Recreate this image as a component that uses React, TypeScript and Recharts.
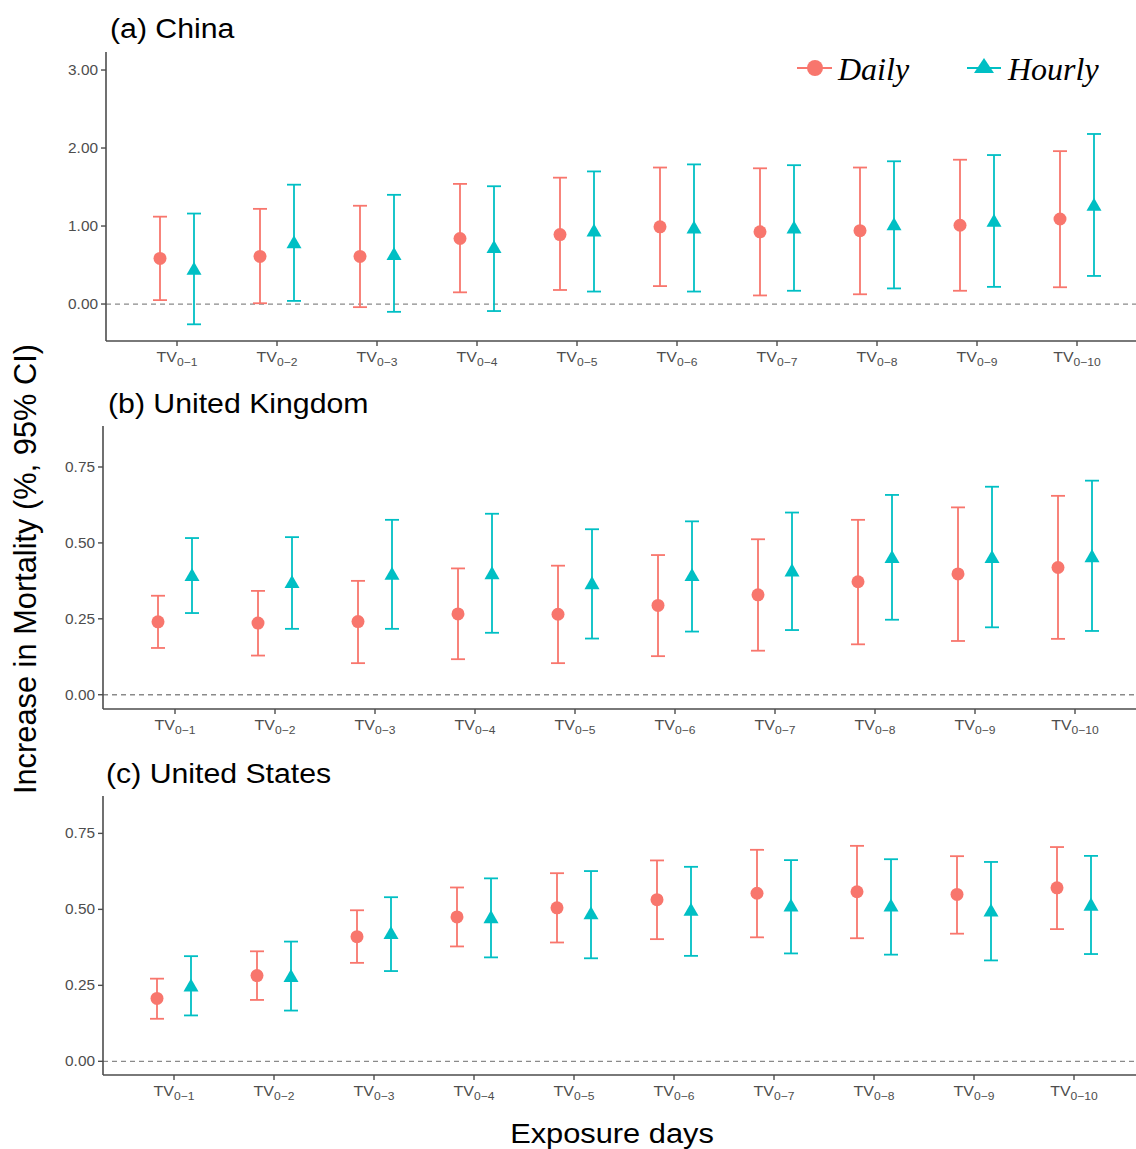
import React from 'react';
import { ScatterChart, Scatter, XAxis, YAxis, ErrorBar, ReferenceLine } from 'recharts';

const RED = '#F8766D';
const TEAL = '#00BFC4';
const AXIS = '#4d4d4d';
const SANS = '"Liberation Sans", Arial, Helvetica, sans-serif';
const SERIF = '"Liberation Serif", "Times New Roman", serif';

// exposure windows TV0-1 .. TV0-10
const lags = ['0−1', '0−2', '0−3', '0−4', '0−5', '0−6', '0−7', '0−8', '0−9', '0−10'];

// (a) China
const chinaDaily = [0.585, 0.61, 0.61, 0.84, 0.89, 0.99, 0.925, 0.94, 1.01, 1.09];
const chinaDailyLo = [0.05, 0.01, -0.04, 0.15, 0.18, 0.23, 0.11, 0.125, 0.17, 0.215];
const chinaDailyHi = [1.12, 1.22, 1.26, 1.54, 1.62, 1.75, 1.74, 1.75, 1.85, 1.96];
const chinaHourly = [0.43, 0.77, 0.62, 0.71, 0.92, 0.96, 0.96, 1.0, 1.045, 1.25];
const chinaHourlyLo = [-0.26, 0.04, -0.1, -0.09, 0.16, 0.16, 0.17, 0.2, 0.22, 0.36];
const chinaHourlyHi = [1.16, 1.53, 1.4, 1.51, 1.7, 1.79, 1.78, 1.83, 1.91, 2.18];

// (b) United Kingdom
const ukDaily = [0.24, 0.236, 0.241, 0.266, 0.265, 0.294, 0.329, 0.372, 0.398, 0.419];
const ukDailyLo = [0.154, 0.129, 0.104, 0.117, 0.104, 0.127, 0.145, 0.166, 0.177, 0.184];
const ukDailyHi = [0.326, 0.342, 0.375, 0.416, 0.425, 0.46, 0.512, 0.576, 0.617, 0.655];
const ukHourly = [0.389, 0.366, 0.393, 0.395, 0.362, 0.389, 0.404, 0.448, 0.448, 0.451];
const ukHourlyLo = [0.269, 0.217, 0.217, 0.204, 0.185, 0.208, 0.213, 0.247, 0.222, 0.21];
const ukHourlyHi = [0.516, 0.519, 0.576, 0.596, 0.545, 0.571, 0.6, 0.658, 0.685, 0.705];

// (c) United States
const usDaily = [0.207, 0.282, 0.41, 0.475, 0.505, 0.532, 0.553, 0.558, 0.549, 0.571];
const usDailyLo = [0.14, 0.202, 0.324, 0.378, 0.391, 0.402, 0.408, 0.405, 0.42, 0.435];
const usDailyHi = [0.272, 0.362, 0.497, 0.572, 0.619, 0.661, 0.696, 0.709, 0.675, 0.705];
const usHourly = [0.244, 0.275, 0.417, 0.469, 0.482, 0.493, 0.507, 0.507, 0.491, 0.51];
const usHourlyLo = [0.151, 0.167, 0.297, 0.342, 0.339, 0.347, 0.355, 0.351, 0.332, 0.353];
const usHourlyHi = [0.346, 0.394, 0.54, 0.602, 0.626, 0.64, 0.662, 0.665, 0.656, 0.676];

const chinaTicks = [0, 1, 2, 3];
const smallTicks = [0, 0.25, 0.5, 0.75];

const DODGE = 0.17;

function buildSeries(est: number[], lo: number[], hi: number[], shift: number) {
  return est.map((v, i) => ({ x: i + 1 + shift, y: v, err: [v - lo[i], hi[i] - v] }));
}

const DotShape = (props: any) => <circle cx={props.cx} cy={props.cy} r={6.5} fill={RED} />;

const TriShape = (props: any) => {
  const { cx, cy } = props;
  const r = 8.7;
  const hw = 7.5;
  return <polygon points={`${cx},${cy - r} ${cx - hw},${cy + r / 2} ${cx + hw},${cy + r / 2}`} fill={TEAL} />;
};

// the source figure is stretched a little horizontally
const STRETCH = 1.1;

const TvTick = (props: any) => {
  const { x, y, payload } = props;
  const sub = lags[Math.round(payload.value) - 1];
  return (
    <text transform={`translate(${x},${y + 14}) scale(${STRETCH},1)`} textAnchor="middle" fill={AXIS} fontFamily={SANS}>
      <tspan fontSize={14.5}>TV</tspan>
      <tspan fontSize={11} dy={4}>{sub}</tspan>
    </text>
  );
};

const NumTick = (props: any) => {
  const { x, y, payload } = props;
  return (
    <text transform={`translate(${x},${y + 5}) scale(${STRETCH},1)`} textAnchor="end" fill={AXIS} fontFamily={SANS} fontSize={14}>
      {Number(payload.value).toFixed(2)}
    </text>
  );
};

interface PanelProps {
  top: number;
  height: number;
  marginTop: number;
  marginBottom: number;
  xAxisHeight: number;
  yAxisWidth: number;
  xDomain: [number, number];
  yDomain: [number, number];
  yTicks: number[];
  daily: { x: number; y: number; err: number[] }[];
  hourly: { x: number; y: number; err: number[] }[];
}

function Panel(p: PanelProps) {
  return (
    <div style={{ position: 'absolute', left: 0, top: p.top }}>
      <ScatterChart
        width={1136}
        height={p.height}
        margin={{ top: p.marginTop, right: 0, bottom: p.marginBottom, left: 0 }}
      >
        <XAxis
          type="number"
          dataKey="x"
          domain={p.xDomain}
          ticks={[1, 2, 3, 4, 5, 6, 7, 8, 9, 10]}
          interval={0}
          allowDataOverflow
          height={p.xAxisHeight}
          tickSize={5}
          tick={<TvTick />}
          axisLine={{ stroke: AXIS, strokeWidth: 1.6 }}
          tickLine={{ stroke: AXIS, strokeWidth: 1.4 }}
        />
        <YAxis
          type="number"
          dataKey="y"
          domain={p.yDomain}
          ticks={p.yTicks}
          interval={0}
          allowDataOverflow
          width={p.yAxisWidth}
          tickSize={5}
          tickMargin={3}
          tick={<NumTick />}
          axisLine={{ stroke: AXIS, strokeWidth: 1.6 }}
          tickLine={{ stroke: AXIS, strokeWidth: 1.4 }}
        />
        <ReferenceLine y={0} stroke="#8a8a8a" strokeWidth={1.3} strokeDasharray="5 4" />
        <Scatter data={p.daily} shape={DotShape} isAnimationActive={false}>
          <ErrorBar dataKey="err" direction="y" width={7} stroke={RED} strokeWidth={1.8} isAnimationActive={false} />
        </Scatter>
        <Scatter data={p.hourly} shape={TriShape} isAnimationActive={false}>
          <ErrorBar dataKey="err" direction="y" width={7} stroke={TEAL} strokeWidth={1.8} isAnimationActive={false} />
        </Scatter>
      </ScatterChart>
    </div>
  );
}

export default function App() {
  return (
    <div style={{ position: 'absolute', left: 0, top: 0, width: 1136, height: 1149, background: '#fff', fontFamily: SANS }}>
      <Panel
        top={0}
        height={380}
        marginTop={52}
        marginBottom={0}
        xAxisHeight={39}
        yAxisWidth={106}
        xDomain={[0.29, 10.59]}
        yDomain={[-0.474, 3.231]}
        yTicks={chinaTicks}
        daily={buildSeries(chinaDaily, chinaDailyLo, chinaDailyHi, -DODGE)}
        hourly={buildSeries(chinaHourly, chinaHourlyLo, chinaHourlyHi, DODGE)}
      />
      <Panel
        top={380}
        height={370}
        marginTop={46}
        marginBottom={0}
        xAxisHeight={41}
        yAxisWidth={103}
        xDomain={[0.28, 10.61]}
        yDomain={[-0.047, 0.885]}
        yTicks={smallTicks}
        daily={buildSeries(ukDaily, ukDailyLo, ukDailyHi, -DODGE)}
        hourly={buildSeries(ukHourly, ukHourlyLo, ukHourlyHi, DODGE)}
      />
      <Panel
        top={750}
        height={399}
        marginTop={46}
        marginBottom={34}
        xAxisHeight={40}
        yAxisWidth={103}
        xDomain={[0.29, 10.62]}
        yDomain={[-0.045, 0.873]}
        yTicks={smallTicks}
        daily={buildSeries(usDaily, usDailyLo, usDailyHi, -DODGE)}
        hourly={buildSeries(usHourly, usHourlyLo, usHourlyHi, DODGE)}
      />

      {/* titles, axis labels and legend */}
      <svg width={1136} height={1149} style={{ position: 'absolute', left: 0, top: 0, pointerEvents: 'none' }}>
        <text transform={`translate(110,38) scale(${STRETCH},1)`} fontSize={27.5} fontFamily={SANS} fill="#000">(a) China</text>
        <text transform={`translate(108,413) scale(${STRETCH},1)`} fontSize={27.5} fontFamily={SANS} fill="#000">(b) United Kingdom</text>
        <text transform={`translate(106,783) scale(${STRETCH},1)`} fontSize={27.5} fontFamily={SANS} fill="#000">(c) United States</text>
        <text transform="translate(36,569) rotate(-90)" textAnchor="middle" fontSize={30.8} fontFamily={SANS} fill="#000">
          Increase in Mortality (%, 95% CI)
        </text>
        <text transform={`translate(612,1143) scale(${STRETCH},1)`} textAnchor="middle" fontSize={28} fontFamily={SANS} fill="#000">Exposure days</text>

        <line x1={797} x2={832} y1={68} y2={68} stroke={RED} strokeWidth={2} />
        <circle cx={815} cy={68} r={8} fill={RED} />
        <text x={838} y={80} fontSize={32} fontStyle="italic" fontFamily={SERIF} fill="#000">Daily</text>
        <line x1={967} x2={1001} y1={68} y2={68} stroke={TEAL} strokeWidth={2} />
        <polygon points="984,58 974,73 994,73" fill={TEAL} />
        <text x={1008} y={80} fontSize={32} fontStyle="italic" fontFamily={SERIF} fill="#000">Hourly</text>
      </svg>
    </div>
  );
}
